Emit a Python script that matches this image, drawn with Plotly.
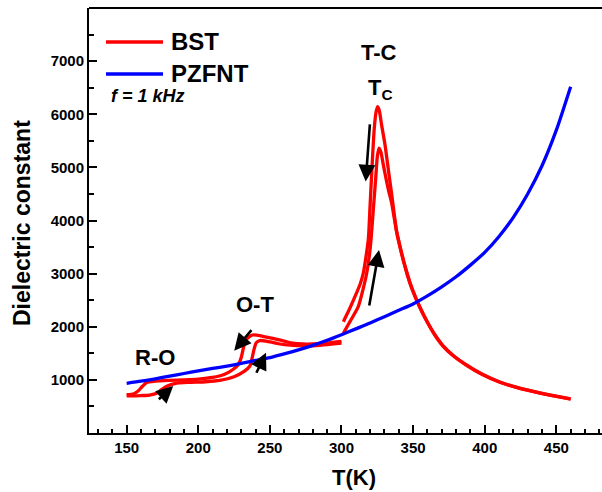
import plotly.graph_objects as go

# ---------------- data ----------------
T_PZFNT = [150, 160, 170, 180, 190, 200, 210, 220, 230, 240, 250, 260, 270, 280, 290,
           300, 310, 320, 330, 340, 350, 360, 370, 380, 390, 400, 410, 420, 430, 440, 450, 460]
EPS_PZFNT = [936, 975, 1020, 1070, 1120, 1170, 1215, 1260, 1310, 1365, 1420, 1490, 1565, 1650, 1745,
             1850, 1960, 2070, 2190, 2310, 2430, 2580, 2750, 2940, 3160, 3400, 3700, 4060, 4500, 5030, 5700, 6520]

# BST low-temperature run, transitions on the low-T side
T_BST_L1 = [150, 155, 158, 161, 164, 170, 180, 190, 200, 210, 218, 224, 228, 230, 231.5, 233,
            236, 238.5, 245, 252, 260, 266, 273, 280, 290, 300]
EPS_BST_L1 = [720, 740, 790, 880, 950, 975, 990, 1000, 1015, 1045, 1100, 1190, 1290, 1420, 1600, 1740,
              1820, 1845, 1820, 1783, 1730, 1690, 1675, 1676, 1695, 1725]

# BST low-temperature run, transitions on the high-T side
T_BST_L2 = [150, 160, 166, 171, 174, 178, 185, 195, 205, 215, 225, 232, 236, 237.5, 239, 240.5,
            243, 250, 256, 262, 270, 276, 285, 300]
EPS_BST_L2 = [700, 705, 715, 748, 810, 880, 940, 955, 965, 990, 1060, 1160, 1260, 1400, 1580, 1700,
              1740, 1715, 1680, 1657, 1645, 1638, 1650, 1690]

# BST high-temperature run, outer peak
T_BST_H1 = [301.3, 305, 309.4, 313, 315.2, 317, 318.7, 320, 321.5, 322.9, 324, 325.2, 326.3, 328,
            330.4, 333, 335.1, 338.5, 341, 344, 348, 352, 356, 360, 365, 371, 378, 387, 398, 411,
            422, 434, 447, 460]
EPS_BST_H1 = [2096, 2300, 2567, 2800, 3007, 3300, 3634, 4300, 5100, 5737, 6020, 6144, 6080, 5800,
              5423, 4900, 4482, 3800, 3500, 3180, 2820, 2540, 2300, 2090, 1860, 1640, 1460, 1285, 1110, 955,
              862, 782, 708, 643]

# BST high-temperature run, inner peak
T_BST_H2 = [301.3, 306, 311.7, 315, 317.6, 319.5, 320.6, 322.2, 323.9, 325, 326.2, 327.5, 329,
            331, 333, 335, 338.5, 341, 344, 348, 352, 356, 360, 365, 371, 378, 387, 398, 411,
            422, 434, 447, 460]
EPS_BST_H2 = [1877, 2100, 2378, 2700, 3007, 3350, 3634, 4200, 4796, 5200, 5361, 5290, 5080,
              4800, 4550, 4330, 3780, 3480, 3160, 2800, 2525, 2288, 2080, 1850, 1632, 1453, 1279, 1105, 950,
              858, 778, 704, 639]

X_TICKS = [150, 200, 250, 300, 350, 400, 450]
Y_TICKS = [1000, 2000, 3000, 4000, 5000, 6000, 7000]

SERIES_NAMES = ["BST", "PZFNT"]
RED = "#ff0000"
BLUE = "#0000ff"

# ---------------- figure ----------------
W, H = 602, 492
ML, MR, MT, MB = 89, 0, 8, 59
PW, PH = W - ML - MR, H - MT - MB


def px(xp):
    return (xp - ML) / PW


def py(yp):
    return (H - MB - yp) / PH


FONT = "Liberation Sans, Arial, sans-serif"

fig = go.Figure()
for T, E in [(T_BST_L1, EPS_BST_L1), (T_BST_L2, EPS_BST_L2),
             (T_BST_H1, EPS_BST_H1), (T_BST_H2, EPS_BST_H2)]:
    fig.add_trace(go.Scatter(x=T, y=E, mode="lines", name="BST", legendgroup="BST",
                             showlegend=False,
                             line=dict(color=RED, width=3.3, shape="spline", smoothing=0.7)))
fig.add_trace(go.Scatter(x=T_PZFNT, y=EPS_PZFNT, mode="lines", name="PZFNT", showlegend=False,
                         line=dict(color=BLUE, width=3.3, shape="spline", smoothing=0.6)))

tickfont = dict(family=FONT, size=15, color="black", weight="bold")

fig.update_xaxes(range=[123.7, 481.9], tickvals=X_TICKS, ticks="inside", ticklen=8, tickwidth=2,
                 tickcolor="black", showline=True, linewidth=2, linecolor="black",
                 showgrid=False, zeroline=False, tickfont=tickfont,
                 minor=dict(ticks="inside", ticklen=4, tickwidth=1.5, dtick=10, tick0=0,
                            tickcolor="black", showgrid=False))
fig.update_yaxes(range=[0, 8000], tickvals=Y_TICKS, ticks="inside", ticklen=8, tickwidth=2,
                 tickcolor="black", showline=True, linewidth=2, linecolor="black",
                 showgrid=False, zeroline=False, tickfont=tickfont,
                 minor=dict(ticks="inside", ticklen=5, tickwidth=1.5, dtick=500, tick0=0,
                            tickcolor="black", showgrid=False))

shapes = [
    # top frame line
    dict(type="line", xref="paper", yref="paper", x0=0, x1=1, y0=1, y1=1,
         line=dict(color="black", width=2)),
    # legend lines
    dict(type="line", xref="paper", yref="paper", x0=px(106), x1=px(163), y0=py(42), y1=py(42),
         line=dict(color=RED, width=3.3)),
    dict(type="line", xref="paper", yref="paper", x0=px(106), x1=px(163), y0=py(74), y1=py(74),
         line=dict(color=BLUE, width=3.3)),
]


def label(text, xp, yp, size=22, xanchor="center", angle=0):
    return dict(text=text, xref="paper", yref="paper", x=px(xp), y=py(yp), xanchor=xanchor,
                yanchor="middle", showarrow=False, textangle=angle,
                font=dict(family=FONT, size=size, weight="bold", color="black"))


annotations = [
    label(SERIES_NAMES[0], 169, 42, size=24, xanchor="left"),
    label(SERIES_NAMES[1], 169, 73, size=24, xanchor="left"),
    label("<i>f = 1 kHz</i>", 109, 96, size=18, xanchor="left"),
    label("T-C", 379, 53),
    label("T<sub>C</sub>", 380, 89),
    label("O-T", 255, 304),
    label("R-O", 155, 357),
    label("T(K)", 354, 477),
    label("Dielectric constant", 22, 223, size=23, angle=-90),
]

# arrows (tail -> head) in data coordinates
ARROWS = [
    ((319.9, 5837), (316.9, 4732)),
    ((319.2, 2373), (326.2, 3446)),
    ((238.0, 1964), (225.1, 1550)),
    ((240.1, 1105), (247.3, 1512)),
    ((171.4, 608), (182.5, 885)),
]
for (tx, ty), (hx, hy) in ARROWS:
    annotations.append(dict(x=hx, y=hy, ax=tx, ay=ty, xref="x", yref="y", axref="x", ayref="y",
                            text="", showarrow=True, arrowhead=2, arrowsize=1.3, arrowwidth=2.6,
                            arrowcolor="black"))

fig.update_layout(width=W, height=H, margin=dict(l=ML, r=MR, t=MT, b=MB),
                  paper_bgcolor="white", plot_bgcolor="white", showlegend=False,
                  shapes=shapes, annotations=annotations,
                  font=dict(family=FONT, color="black"))

fig.write_html("out.html")
